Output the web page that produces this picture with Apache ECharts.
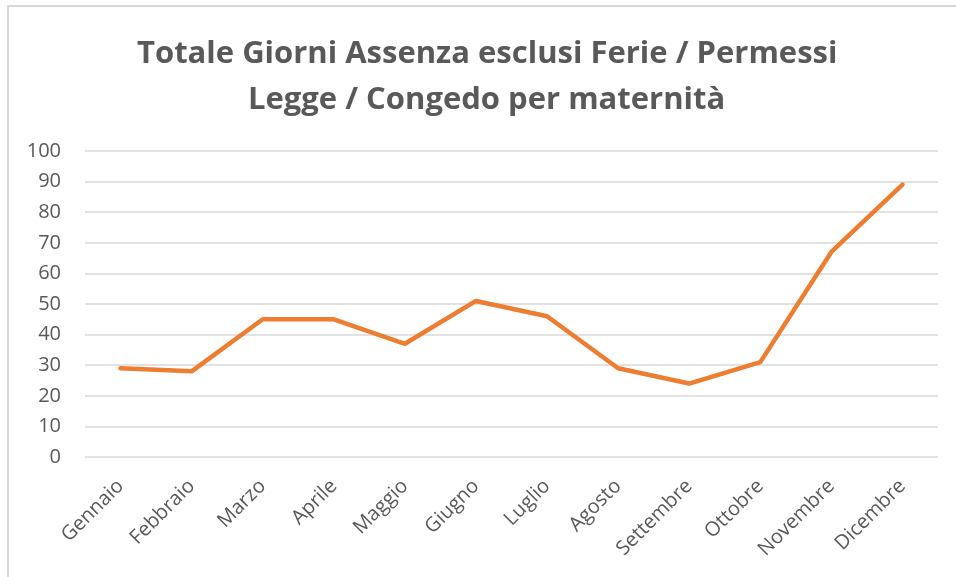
<!DOCTYPE html>
<html>
<head>
<meta charset="utf-8">
<script src="https://cdn.jsdelivr.net/npm/echarts@6/dist/echarts.min.js"></script>
<style>
  html, body { margin: 0; padding: 0; background: #fff; }
  #frame { position: absolute; left: 7px; top: 5px; width: 960px; height: 580px;
           border-left: 2px solid #d9d9d9; border-top: 2px solid #d9d9d9; }
  #chart { position: absolute; left: 0; top: 0; width: 956px; height: 577px; }
</style>
</head>
<body>
<div id="frame"></div>
<div id="chart"></div>
<script>
// titolo su due righe
const titleLines = ['Totale Giorni Assenza esclusi Ferie / Permessi', 'Legge / Congedo per maternità']
// mesi sull'asse x
const months = ['Gennaio', 'Febbraio', 'Marzo', 'Aprile', 'Maggio', 'Giugno',
  'Luglio', 'Agosto', 'Settembre', 'Ottobre', 'Novembre', 'Dicembre']
// giorni di assenza per mese
const absenceDays = [29, 28, 45, 45, 37, 51, 46, 29, 24, 31, 67, 89]

const titleStyle = {
  fontFamily: 'Open Sans',
  fontWeight: 'bold',
  fontSize: 31,
  lineHeight: 46,
  color: '#595959'
}

const chart = echarts.init(document.getElementById('chart'))
chart.setOption({
  animation: false,
  title: [
    { text: titleLines[0], left: 132, top: 26, textStyle: titleStyle },
    { text: titleLines[1], left: 243, top: 72, textStyle: titleStyle }
  ],
  grid: {
    left: 85,
    right: 18,
    top: 151,
    bottom: 120
  },
  xAxis: {
    type: 'category',
    data: months,
    boundaryGap: true,
    axisLine: { show: false },
    axisTick: { show: false },
    axisLabel: {
      rotate: 45,
      margin: 26,
      interval: 0,
      fontFamily: 'Open Sans',
      fontSize: 20,
      color: '#595959'
    }
  },
  yAxis: {
    type: 'value',
    min: 0,
    max: 100,
    interval: 10,
    axisLine: { show: false },
    axisTick: { show: false },
    axisLabel: {
      margin: 24,
      fontFamily: 'Open Sans',
      fontSize: 20,
      color: '#595959'
    },
    splitLine: { lineStyle: { color: '#d9d9d9', width: 1.5 } }
  },
  series: [
    {
      type: 'line',
      data: absenceDays,
      showSymbol: false,
      lineStyle: { color: '#ED7D31', width: 4.5, cap: 'round', join: 'round' }
    }
  ]
})
</script>
</body>
</html>
